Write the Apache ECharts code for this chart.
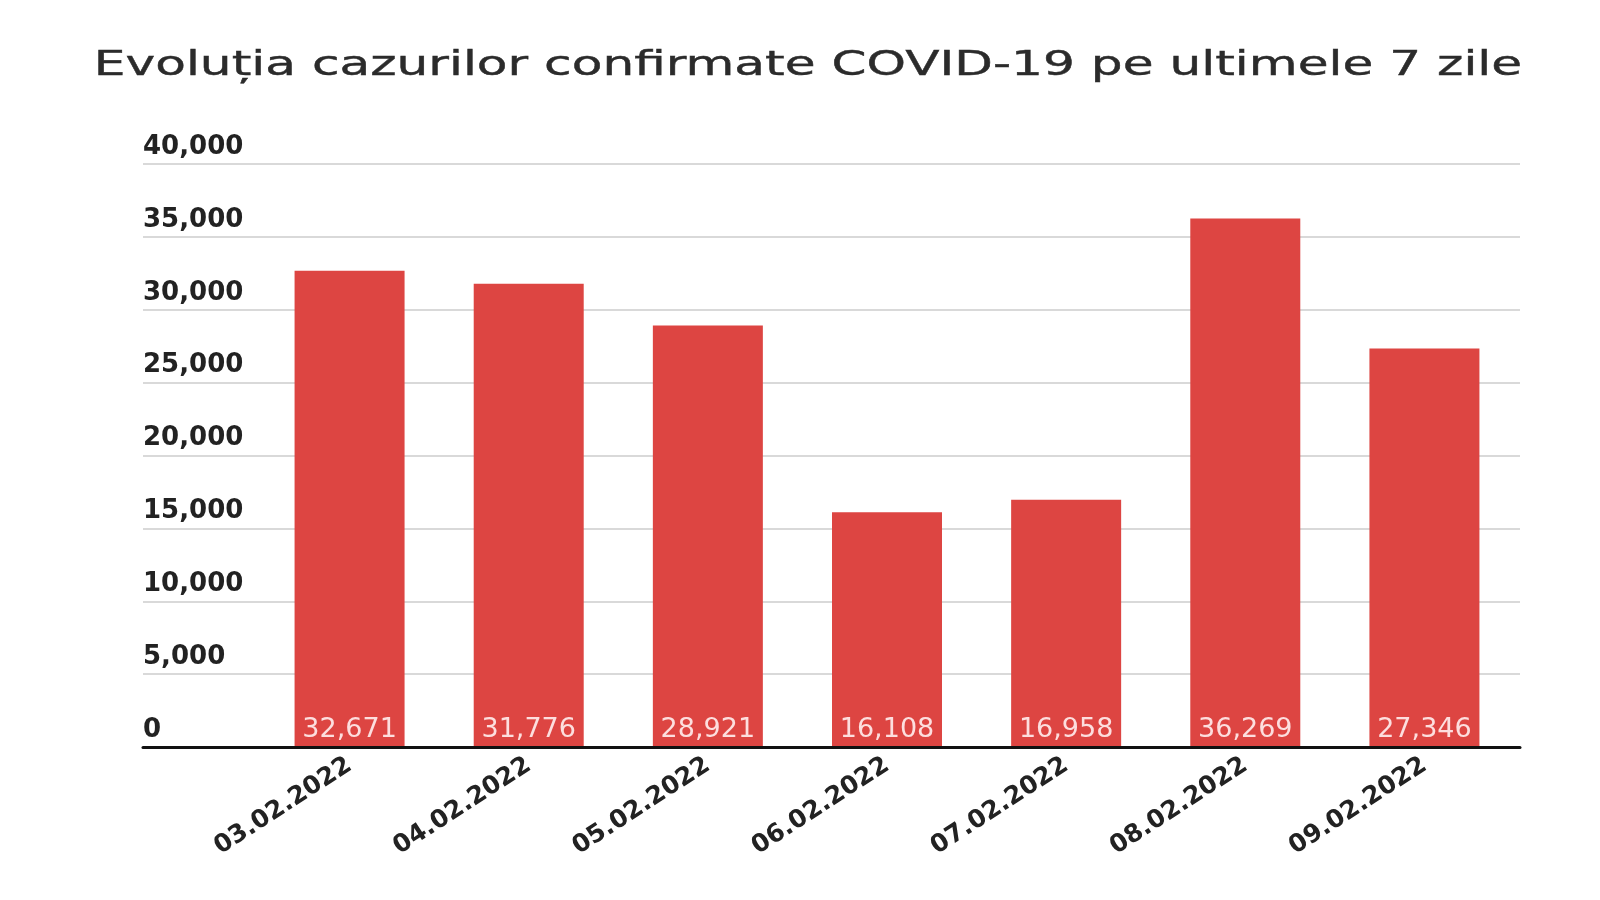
<!DOCTYPE html>
<html>
<head>
<meta charset="utf-8">
<title>COVID-19</title>
<script src="https://cdn.jsdelivr.net/npm/echarts@6/dist/echarts.min.js"></script>
<style>
  html, body { margin: 0; padding: 0; background: #fff; }
  #chart { width: 1600px; height: 900px; }
</style>
</head>
<body>
<div id="chart"></div>
<script>
  // date din grafic
  let titlu = 'Evoluția cazurilor confirmate COVID-19 pe ultimele 7 zile';
  let zile = ['03.02.2022', '04.02.2022', '05.02.2022', '06.02.2022', '07.02.2022', '08.02.2022', '09.02.2022'];
  let cazuri = [32671, 31776, 28921, 16108, 16958, 36269, 27346];
  let yMin = 0;
  let yMax = 40000;
  let yStep = 5000;

  let fmt = function (v) {
    return Number(v).toLocaleString('en-US');
  };

  let chart = echarts.init(document.getElementById('chart'));

  let option = {
    backgroundColor: '#fff',
    animation: false,
    // titlul e latit pe orizontala ca in imagine
    graphic: [
      {
        type: 'text',
        x: 808,
        y: 66,
        scaleX: 1.52,
        style: {
          text: titlu,
          fontFamily: 'DejaVu Sans',
          fontSize: 33,
          fill: '#2b2b2b',
          stroke: '#2b2b2b',
          lineWidth: 0.4,
          align: 'center',
          verticalAlign: 'middle'
        }
      }
    ],
    grid: [
      { left: 260, right: 86, top: 164, bottom: 153 },  // bare
      { left: 143, right: 80, top: 164, bottom: 153 }   // linii + etichete y
    ],
    xAxis: [
      {
        type: 'category',
        gridIndex: 0,
        data: zile,
        axisLine: { show: false },
        axisTick: { show: false },
        axisLabel: {
          rotate: 33,
          margin: 16,
          fontFamily: 'DejaVu Sans',
          fontSize: 25,
          fontWeight: 'bold',
          color: '#222'
        }
      },
      {
        type: 'value',
        gridIndex: 1,
        min: 0,
        max: 1,
        z: 10,
        axisLine: { show: true, lineStyle: { color: '#111', width: 3 } },
        axisTick: { show: false },
        axisLabel: { show: false },
        splitLine: { show: false }
      }
    ],
    yAxis: [
      {
        type: 'value',
        gridIndex: 0,
        min: yMin,
        max: yMax,
        interval: yStep,
        show: false
      },
      {
        type: 'value',
        gridIndex: 1,
        min: yMin,
        max: yMax,
        interval: yStep,
        axisLine: { show: false },
        axisTick: { show: false },
        axisLabel: {
          inside: true,
          margin: 0,
          verticalAlign: 'bottom',
          padding: [0, 0, 4, 0],
          fontFamily: 'DejaVu Sans',
          fontSize: 26,
          fontWeight: 'bold',
          color: '#222',
          formatter: fmt
        },
        splitLine: { lineStyle: { color: '#d9d9d9', width: 2 } }
      }
    ],
    series: [
      {
        type: 'bar',
        xAxisIndex: 0,
        yAxisIndex: 0,
        data: cazuri,
        barWidth: 110,
        itemStyle: { color: '#dd4542' },
        label: {
          show: true,
          position: 'insideBottom',
          distance: 4,
          fontFamily: 'DejaVu Sans',
          fontSize: 27,
          color: 'rgba(255,235,235,0.92)',
          formatter: function (p) { return fmt(p.value); }
        }
      }
    ]
  };

  chart.setOption(option);
</script>
</body>
</html>
